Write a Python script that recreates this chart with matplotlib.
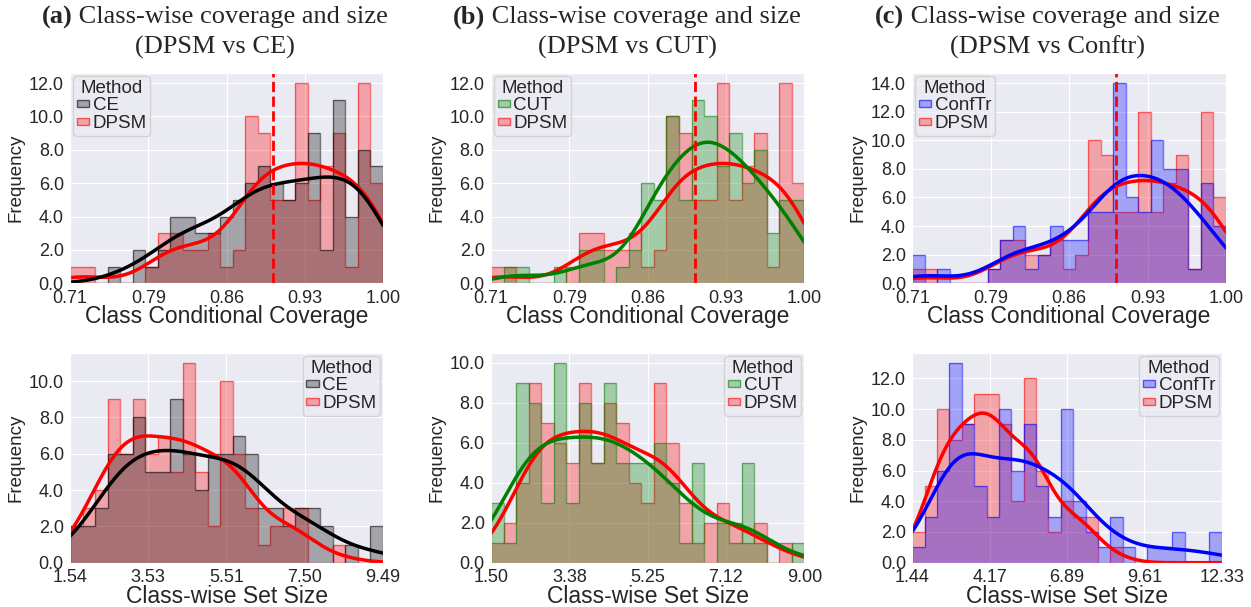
import numpy as np
import matplotlib.pyplot as plt
import seaborn as sns
from matplotlib.patches import Patch
from matplotlib.colors import to_rgba
from matplotlib.ticker import FormatStrFormatter, MultipleLocator

sns.set_style("darkgrid")
plt.rcParams['font.family'] = ['Liberation Sans', 'DejaVu Sans']

# class conditional coverage: 25 bins between COV_LO and COV_HI
COV_LO, COV_HI = 0.7145, 1.0
TARGET = 0.9
cov_dpsm = [1, 1, 0, 0, 0, 0, 1, 3, 3, 2, 2, 3, 1, 2, 10, 9, 5, 5, 12, 5, 7, 9, 1, 12, 6]
cov_ce = [0, 0, 0, 1, 0, 2, 1, 2, 4, 4, 3, 3, 4, 5, 6, 7, 6, 5, 6, 9, 2, 11, 4, 8, 7]
cov_cut = [0, 1, 1, 0, 0, 1, 0, 2, 2, 0, 1, 2, 6, 5, 10, 5, 11, 10, 7, 9, 6, 8, 3, 5, 5]
cov_conftr = [2, 0, 1, 0, 0, 0, 1, 3, 4, 1, 2, 4, 3, 3, 5, 5, 14, 6, 5, 10, 8, 8, 1, 7, 4]

# class-wise set size: 25 bins per panel
SIZE_A = (1.538, 9.49)
size_a_dpsm = [2, 3, 4, 9, 6, 9, 6, 7, 5, 11, 5, 2, 10, 6, 3, 1, 2, 3, 3, 0, 0, 1, 0, 0, 0]
size_a_ce = [2, 2, 3, 6, 6, 8, 5, 5, 9, 6, 4, 6, 6, 7, 6, 3, 3, 2, 3, 3, 2, 0, 1, 0, 2]
SIZE_B = (1.5, 9.0)
size_b_dpsm = [1, 2, 4, 9, 7, 6, 5, 9, 5, 8, 7, 4, 3, 9, 6, 3, 1, 2, 3, 2, 1, 2, 0, 1, 0]
size_b_cut = [3, 1, 9, 8, 3, 10, 3, 8, 5, 9, 5, 5, 5, 6, 4, 1, 5, 0, 2, 1, 5, 1, 0, 0, 1]
SIZE_C = (1.444, 12.334)
size_c_dpsm = [2, 5, 10, 8, 9, 11, 11, 9, 4, 12, 6, 2, 4, 3, 3, 0, 1, 0, 0, 0, 0, 0, 0, 0, 0]
size_c_conftr = [1, 3, 6, 13, 9, 5, 3, 10, 6, 9, 5, 3, 10, 4, 2, 1, 3, 1, 0, 1, 1, 2, 0, 0, 2]

titles = [("(a)", " Class-wise coverage and size", "(DPSM vs CE)"),
          ("(b)", " Class-wise coverage and size", "(DPSM vs CUT)"),
          ("(c)", " Class-wise coverage and size", "(DPSM vs Conftr)")]


def kde_curve(edges, counts, grid):
    # gaussian kde (scott bandwidth) of the binned values, scaled to counts
    centers = (edges[:-1] + edges[1:]) / 2
    samples = np.repeat(centers, counts)
    n = len(samples)
    bw = samples.std(ddof=1) * n ** (-1 / 5)
    z = (grid[:, None] - samples[None, :]) / bw
    dens = np.exp(-0.5 * z ** 2).sum(axis=1) / (n * bw * np.sqrt(2 * np.pi))
    return dens * n * (edges[1] - edges[0])


def draw_panel(ax, lo, hi, other, other_counts, color, dpsm_counts, xlabel, loc, target=None):
    edges = np.linspace(lo, hi, len(dpsm_counts) + 1)
    grid = np.linspace(lo, hi, 400)
    series = [("DPSM", dpsm_counts, "red"), (other, other_counts, color)]
    for name, counts, c in series:
        ax.stairs(counts, edges, fill=True, facecolor=to_rgba(c, 0.3), edgecolor='none')
        ax.stairs(counts, edges, color=c, alpha=0.5, lw=1)
    for name, counts, c in series:
        ax.plot(grid, kde_curve(edges, counts, grid), color=c, lw=2.5)
    if target is not None:
        ax.axvline(target, color='red', ls='--', lw=2)
    ax.set_xlim(lo, hi)
    ax.set_ylim(0, max(max(dpsm_counts), max(other_counts)) * 1.05)
    ax.set_xticks(np.linspace(lo, hi, 5))
    ax.yaxis.set_major_locator(MultipleLocator(2))
    ax.xaxis.set_major_formatter(FormatStrFormatter('%.2f'))
    ax.yaxis.set_major_formatter(FormatStrFormatter('%.1f'))
    ax.tick_params(labelsize=13, pad=1)
    ax.set_xlabel(xlabel, fontsize=16.5, labelpad=-1)
    ax.set_ylabel("Frequency", fontsize=13.5, labelpad=3)
    handles = [Patch(facecolor=to_rgba(color, 0.3), edgecolor=to_rgba(color, 0.6)),
               Patch(facecolor=to_rgba('red', 0.3), edgecolor=to_rgba('red', 0.6))]
    ax.legend(handles, [other, "DPSM"], title="Method", loc=loc, fontsize=13.5,
              title_fontsize=13.5, handlelength=0.65, handleheight=0.2,
              handletextpad=0.2, labelspacing=0.05, borderpad=0.2, borderaxespad=0.15)


W, H = 1251, 607
fig = plt.figure(figsize=(W / 100, H / 100), dpi=100)


def add_ax(l, t, r, b):
    return fig.add_axes([l / W, 1 - b / H, (r - l) / W, (b - t) / H])


top = [add_ax(70, 73, 383, 283.3), add_ax(491, 73, 804.3, 283.3), add_ax(912.3, 73, 1226, 283.3)]
bot = [add_ax(70, 353, 383, 562.7), add_ax(491, 353, 804.3, 562.7), add_ax(912.3, 353, 1221.7, 562.7)]

cov_label = "Class Conditional Coverage"
size_label = "Class-wise Set Size"
draw_panel(top[0], COV_LO, COV_HI, "CE", cov_ce, "black", cov_dpsm, cov_label, "upper left", TARGET)
draw_panel(top[1], COV_LO, COV_HI, "CUT", cov_cut, "green", cov_dpsm, cov_label, "upper left", TARGET)
draw_panel(top[2], COV_LO, COV_HI, "ConfTr", cov_conftr, "blue", cov_dpsm, cov_label, "upper left", TARGET)
draw_panel(bot[0], *SIZE_A, "CE", size_a_ce, "black", size_a_dpsm, size_label, "upper right")
draw_panel(bot[1], *SIZE_B, "CUT", size_b_cut, "green", size_b_dpsm, size_label, "upper right")
draw_panel(bot[2], *SIZE_C, "ConfTr", size_c_conftr, "blue", size_c_dpsm, size_label, "upper right")

# column titles (serif, bold panel letter)
renderer = fig.canvas.get_renderer()
serif = ['Liberation Serif', 'DejaVu Serif']
for (letter, rest, line2), cx in zip(titles, [215, 627, 1047]):
    t1 = fig.text(0, 0, letter, family=serif, weight='bold', fontsize=19)
    t2 = fig.text(0, 0, rest, family=serif, fontsize=19)
    w1 = t1.get_window_extent(renderer).width
    w2 = t2.get_window_extent(renderer).width
    x0 = cx - (w1 + w2) / 2
    y1 = 1 - 17 / H
    t1.set_position((x0 / W, y1))
    t1.set_va('center')
    t2.set_position(((x0 + w1) / W, y1))
    t2.set_va('center')
    fig.text(cx / W, 1 - 47 / H, line2, family=serif, fontsize=19, ha='center', va='center')

fig.savefig("out.png", dpi=100)
